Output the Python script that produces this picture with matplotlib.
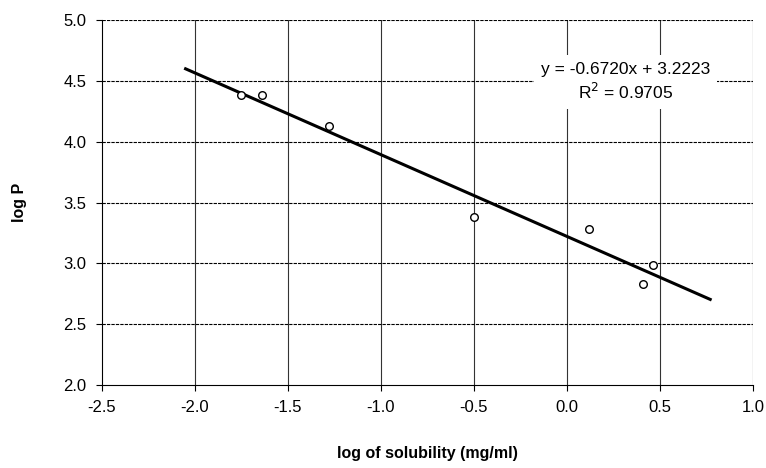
import numpy as np
import matplotlib.pyplot as plt

plt.rcParams['font.family'] = ['Liberation Sans', 'DejaVu Sans']

# measured points
log_sol = [-1.75, -1.64, -1.28, -0.50, 0.12, 0.41, 0.46]
log_p = [4.385, 4.385, 4.13, 3.385, 3.28, 2.83, 2.99]

# trend line
slope = -0.6720
intercept = 3.2223
r2 = 0.9705
line_x = [-2.05, 0.77]

fig = plt.figure(figsize=(7.66, 4.68), dpi=100)
ax = fig.add_axes([0.133, 0.177, 0.850, 0.78])

for xv in np.arange(-2.0, 1.01, 0.5):
    ax.axvline(xv, color='#333333', lw=0.8, zorder=1)
for yv in np.arange(2.5, 5.01, 0.5):
    ax.axhline(yv, color='black', lw=0.8, ls=(0, (3, 1)), zorder=1)

lx = np.array(line_x)
ax.plot(lx, slope * lx + intercept, color='black', lw=2.2, zorder=3)
ax.scatter(log_sol, log_p, s=30, facecolors='white', edgecolors='black',
           linewidths=1.0, zorder=4)

ax.text(0.317, 4.49, f'y = {slope:.4f}x + {intercept:.4f}\nR$^2$ = {r2:.4f}',
        ha='center', va='center', fontsize=12.5, linespacing=1.3, zorder=5,
        bbox=dict(facecolor='white', edgecolor='none', pad=5))

ax.set_xlim(-2.5, 1.0)
ax.set_ylim(2.0, 5.0)
ax.set_xticks(np.arange(-2.5, 1.01, 0.5))
ax.set_yticks(np.arange(2.0, 5.01, 0.5))
ax.xaxis.set_major_formatter(plt.FormatStrFormatter('%.1f'))
ax.yaxis.set_major_formatter(plt.FormatStrFormatter('%.1f'))
ax.tick_params(direction='out', length=4, width=0.8, labelsize=12, pad=7)
ax.spines['top'].set_visible(False)
ax.spines['right'].set_visible(False)

ax.set_xlabel('log of solubility (mg/ml)', fontsize=11.5, fontweight='bold', labelpad=22)
ax.set_ylabel('log P', fontsize=11.5, fontweight='bold', labelpad=26)

fig.savefig('out.png', dpi=100)
